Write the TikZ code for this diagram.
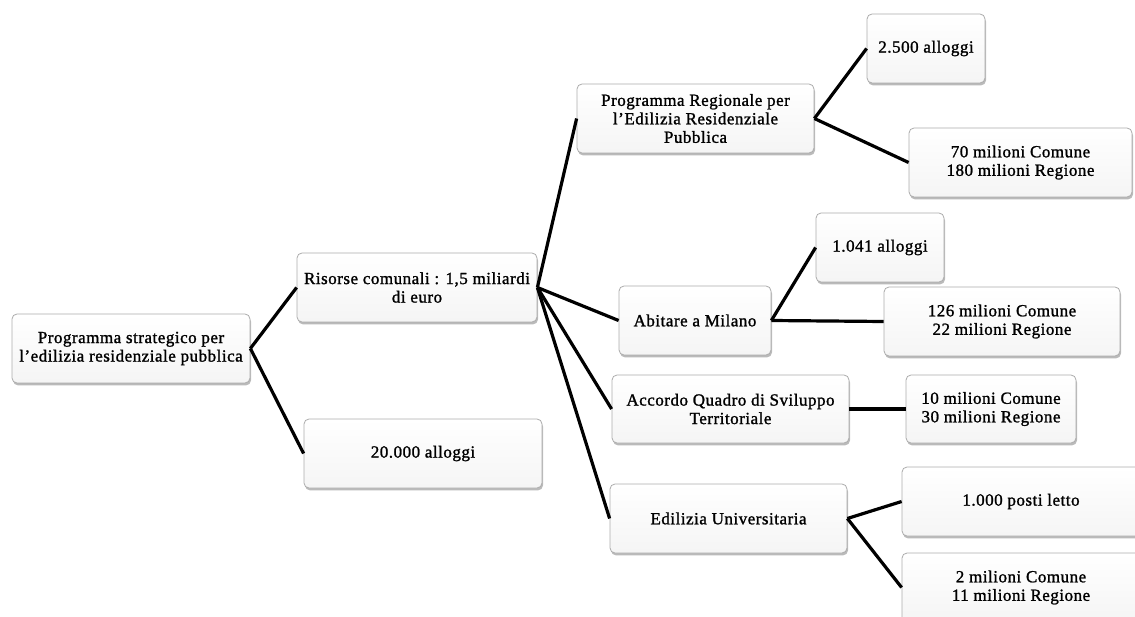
\documentclass[tikz,border=0pt]{standalone}
\usepackage{fontspec}
\setmainfont{Liberation Serif}[LetterSpace=3, FakeBold=1.3]
\usetikzlibrary{shadows}
\begin{document}
\begin{tikzpicture}[x=1pt,y=-1pt,
  box/.style={draw=gray!65, line width=0.8pt, rounded corners=5pt,
    top color=white, bottom color=gray!8,
    drop shadow={shadow xshift=1pt, shadow yshift=-2.4pt, opacity=0.45, fill=black!60},
    align=center, inner sep=2pt, font=\fontsize{17}{18.5}\selectfont,
    minimum height=69pt},
  link/.style={line width=3.2pt, black}]
\useasboundingbox (0,0) rectangle (1135,617);
\clip (0,0) rectangle (1135,617);

% level 0
\node[box, minimum width=238pt] (root) at (131,348.5) {Programma strategico per\\l’edilizia residenziale pubblica};

% level 1
\node[box, minimum width=240pt] (risorse) at (417,287.5) {Risorse comunali : 1,5 miliardi\\di euro};
\node[box, minimum width=238pt] (alloggi) at (423,453.5) {20.000 alloggi};

% level 2
\node[box, minimum width=237pt] (prer) at (695.5,118.5) {Programma Regionale per\\l’Edilizia Residenziale\\Pubblica};
\node[box, minimum width=152pt] (abitare) at (695,320.5) {Abitare a Milano};
\node[box, minimum width=237pt, minimum height=68pt] (accordo) at (730.5,409) {Accordo Quadro di Sviluppo\\Territoriale};
\node[box, minimum width=237pt] (edilizia) at (728.5,518.5) {Edilizia Universitaria};

% level 3
\node[box, minimum width=118pt] (prerA) at (926,48.5) {2.500 alloggi};
\node[box, minimum width=223pt] (prerB) at (1020.5,162.5) {70 milioni Comune\\180 milioni Regione};
\node[box, minimum width=128pt] (abitA) at (880,247.5) {1.041 alloggi};
\node[box, minimum width=236pt] (abitB) at (1002,321.5) {126 milioni Comune\\22 milioni Regione};
\node[box, minimum width=170pt, minimum height=68pt] (accA) at (991,409) {10 milioni Comune\\30 milioni Regione};
\node[box, minimum width=238pt] (uniA) at (1021,501.5) {1.000 posti letto};
\node[box, minimum width=238pt] (uniB) at (1021,587.5) {2 milioni Comune\\11 milioni Regione};

% connectors
\draw[link] (root.east) -- (risorse.west);
\draw[link] (root.east) -- (alloggi.west);
\draw[link] (risorse.east) -- (prer.west);
\draw[link] (risorse.east) -- (abitare.west);
\draw[link] (risorse.east) -- (accordo.west);
\draw[link] (risorse.east) -- (edilizia.west);
\draw[link] (prer.east) -- (prerA.west);
\draw[link] (prer.east) -- (prerB.west);
\draw[link] (abitare.east) -- (abitA.west);
\draw[link] (abitare.east) -- (abitB.west);
\draw[link] (accordo.east) -- (accA.west);
\draw[link] (edilizia.east) -- (uniA.west);
\draw[link] (edilizia.east) -- (uniB.west);
\end{tikzpicture}
\end{document}
